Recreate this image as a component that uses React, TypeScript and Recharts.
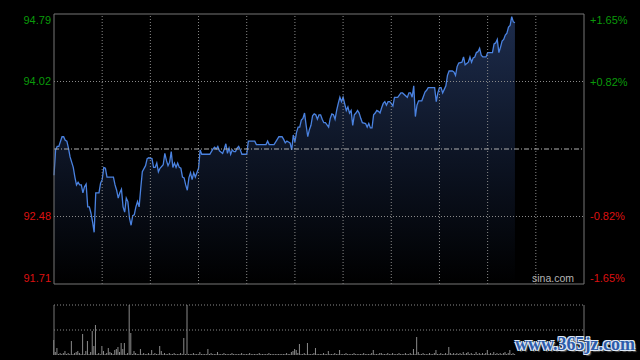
import {
  Area,
  Bar,
  BarChart,
  ComposedChart,
  ReferenceLine,
  XAxis,
  YAxis,
} from "recharts";

// intraday minute index (0..330) and last price
const minutes = [
  0, 1, 2, 3, 5, 6, 7, 8, 9, 10, 12, 13, 14, 15, 16, 17, 18, 19, 20, 21, 22, 23, 24, 25, 26, 27, 28, 29, 30,
  31, 32, 33, 35, 37, 38, 39, 40, 41, 42, 43, 44, 45, 46, 47, 48, 49, 50, 51, 52, 53, 54, 55, 57, 58, 59, 61,
  62, 63, 64, 65, 66, 68, 69, 70, 71, 72, 73, 74, 75, 76, 77, 78, 79, 80, 81, 82, 83, 84, 85, 86, 87, 88, 90,
  91, 92, 97, 98, 99, 100, 101, 102, 103, 105, 106, 107, 108, 109, 110, 111, 112, 113, 114, 115, 116, 117,
  120, 121, 125, 126, 132, 133, 134, 137, 139, 140, 142, 143, 144, 145, 146, 147, 148, 149, 150, 151, 152,
  153, 154, 155, 156, 157, 158, 159, 160, 161, 162, 163, 164, 165, 166, 167, 168, 169, 171, 172, 173, 174,
  175, 176, 177, 178, 179, 180, 182, 183, 184, 185, 186, 187, 188, 189, 190, 191, 192, 194, 195, 196, 197,
  198, 199, 200, 201, 202, 203, 204, 205, 206, 207, 208, 209, 210, 211, 212, 214, 216, 217, 220, 221, 222,
  223, 224, 225, 226, 227, 229, 230, 231, 232, 233, 237, 238, 239, 240, 241, 242, 243, 244, 245, 246, 248,
  249, 250, 251, 252, 254, 255, 256, 258, 259, 260, 261, 262, 263, 264, 265, 266, 267, 269, 270, 271, 273,
  274, 275, 276, 277, 278, 279, 280, 281, 282, 283, 284, 285, 286, 287,
];

const prices = [
  92.95, 93.24, 93.28, 93.28, 93.39, 93.39, 93.35, 93.34, 93.26, 93.16, 93.04, 92.93, 92.84, 92.87, 92.84,
  92.84, 92.75, 92.82, 92.85, 92.59, 92.59, 92.52, 92.42, 92.3, 92.75, 92.75, 92.75, 92.86, 92.9, 93.04,
  93.03, 92.93, 92.93, 92.93, 92.84, 92.78, 92.69, 92.75, 92.79, 92.59, 92.53, 92.69, 92.65, 92.46, 92.38,
  92.49, 92.5, 92.59, 92.65, 92.59, 92.8, 92.99, 93.06, 93.14, 93.15, 93.14, 93.04, 93.04, 93.09, 92.99,
  93.03, 93.07, 93.2, 93.12, 93.06, 93.1, 93.22, 93.04, 93.09, 93.04, 93.09, 93.04, 93.03, 92.93, 92.92,
  92.84, 92.78, 92.92, 92.98, 92.9, 92.98, 92.93, 93.03, 93.24, 93.19, 93.19, 93.22, 93.25, 93.27, 93.25,
  93.28, 93.23, 93.2, 93.25, 93.31, 93.2, 93.26, 93.19, 93.24, 93.22, 93.22, 93.26, 93.28, 93.24, 93.19,
  93.19, 93.34, 93.34, 93.3, 93.3, 93.34, 93.3, 93.3, 93.36, 93.39, 93.39, 93.36, 93.32, 93.34, 93.33,
  93.32, 93.24, 93.41, 93.33, 93.44, 93.5, 93.5, 93.58, 93.6, 93.66, 93.52, 93.39, 93.47, 93.52, 93.63,
  93.65, 93.64, 93.59, 93.64, 93.64, 93.59, 93.55, 93.55, 93.5, 93.6, 93.65, 93.64, 93.59, 93.69, 93.77,
  93.84, 93.79, 93.84, 93.69, 93.73, 93.66, 93.69, 93.52, 93.64, 93.66, 93.69, 93.66, 93.6, 93.55, 93.54,
  93.5, 93.54, 93.49, 93.49, 93.64, 93.66, 93.69, 93.68, 93.66, 93.72, 93.77, 93.79, 93.75, 93.79, 93.79,
  93.77, 93.74, 93.84, 93.84, 93.89, 93.89, 93.84, 93.89, 93.89, 93.84, 93.97, 93.62, 93.75, 93.8, 93.8,
  93.85, 93.9, 93.92, 93.95, 93.95, 93.79, 93.89, 93.95, 93.95, 93.89, 93.93, 93.97, 94.09, 94.14, 94.14,
  94.13, 94.09, 94.19, 94.23, 94.24, 94.3, 94.21, 94.24, 94.3, 94.24, 94.29, 94.3, 94.35, 94.36, 94.4,
  94.32, 94.3, 94.3, 94.35, 94.35, 94.35, 94.45, 94.46, 94.5, 94.35, 94.41, 94.48, 94.5, 94.55, 94.57,
  94.64, 94.66, 94.76, 94.7, 94.69,
];

// volume per minute (0..287)
const volumes = [
  15, 3, 7, 1, 2, 1, 2, 4, 1, 2,
  1, 14, 1, 2, 3, 4, 2, 1, 21, 1,
  4, 14, 1, 3, 24, 9, 30, 1, 2, 1,
  9, 4, 1, 2, 7, 3, 2, 1, 5, 6,
  8, 3, 12, 6, 12, 1, 2, 60, 22, 1,
  4, 2, 1, 1, 6, 1, 2, 1, 1, 2,
  1, 5, 1, 2, 1, 1, 9, 4, 1, 2,
  1, 1, 2, 1, 1, 2, 1, 1, 1, 2,
  1, 17, 1, 60, 1, 1, 1, 2, 1, 1,
  1, 3, 1, 1, 1, 1, 6, 1, 2, 1,
  1, 1, 3, 1, 1, 1, 2, 1, 1, 1,
  1, 2, 1, 1, 1, 1, 1, 2, 1, 1,
  1, 1, 2, 1, 1, 1, 1, 1, 2, 1,
  1, 1, 1, 1, 2, 1, 1, 1, 1, 1,
  1, 1, 1, 1, 1, 2, 1, 1, 3, 4,
  6, 5, 2, 11, 1, 1, 2, 1, 12, 1,
  1, 1, 2, 7, 1, 1, 1, 1, 2, 1,
  1, 4, 1, 1, 1, 2, 1, 1, 5, 1,
  1, 1, 2, 1, 1, 1, 1, 2, 1, 1,
  1, 1, 1, 2, 1, 1, 1, 1, 2, 5,
  1, 1, 1, 2, 2, 1, 1, 1, 2, 1,
  1, 2, 1, 1, 1, 2, 1, 1, 1, 2,
  1, 1, 2, 1, 6, 1, 18, 3, 1, 1,
  2, 1, 1, 1, 2, 1, 1, 2, 5, 1,
  1, 2, 1, 1, 2, 1, 8, 2, 1, 2,
  1, 2, 1, 2, 1, 3, 1, 2, 3, 1,
  2, 1, 1, 3, 1, 2, 1, 2, 1, 2,
  5, 1, 2, 1, 3, 1, 2, 1, 2, 1,
  2, 3, 1, 2, 5, 1, 2, 1,
];

const prevClose = 93.25;
const priceTicks = [91.71, 92.48, 94.02, 94.79];
const pctTicks = [-1.65, -0.82, 0.82, 1.65];
const timeTicks = [0, 30, 60, 90, 120, 150, 180, 210, 240, 270, 300, 330];

const GREEN = "#0a9a0a";
const RED = "#dd1111";
const BORDER = "#777";
const GRID = "#8a8a8a";
const FONT = '"Liberation Sans", Arial, sans-serif';

const priceData = minutes.map((m, i) => ({ m, p: prices[i] }));
const volData = volumes.map((v, i) => ({ m: i, v }));

function edgeShift(value: number, lo: number, hi: number) {
  if (value === hi) return 6;
  if (value === lo) return -6;
  return 0;
}

function PriceTick(props: any) {
  const { x, y, payload } = props;
  const v = payload.value as number;
  return (
    <text
      x={x}
      y={y + edgeShift(v, 91.71, 94.79)}
      dy="0.355em"
      textAnchor="end"
      fill={v > prevClose ? GREEN : RED}
      fontSize={11}
      fontFamily={FONT}
    >
      {v.toFixed(2)}
    </text>
  );
}

function PctTick(props: any) {
  const { x, y, payload } = props;
  const v = payload.value as number;
  return (
    <text
      x={x}
      y={y + edgeShift(v, -1.65, 1.65)}
      dy="0.355em"
      textAnchor="start"
      fill={v > 0 ? GREEN : RED}
      fontSize={11}
      fontFamily={FONT}
    >
      {(v > 0 ? "+" : "") + v.toFixed(2) + "%"}
    </text>
  );
}

export default function App() {
  return (
    <div
      style={{
        position: "absolute",
        left: 0,
        top: 0,
        width: 640,
        height: 360,
        background: "#000",
        overflow: "hidden",
        fontFamily: FONT,
      }}
    >
      <div style={{ position: "absolute", left: 0, top: 0 }}>
        <ComposedChart width={640} height={290} data={priceData} margin={{ top: 14, right: 0, bottom: 6, left: 0 }}>
          <defs>
            <linearGradient id="priceFill" x1="0" y1="0" x2="0" y2="1">
              <stop offset="0%" stopColor="#1d2c4c" />
              <stop offset="55%" stopColor="#0c1322" />
              <stop offset="100%" stopColor="#000" />
            </linearGradient>
          </defs>
          <XAxis
            dataKey="m"
            type="number"
            domain={[0, 330]}
            ticks={timeTicks}
            interval={0}
            tick={false}
            axisLine={false}
            tickLine={false}
            height={0}
          />
          <YAxis
            yAxisId="price"
            domain={[91.71, 94.79]}
            ticks={priceTicks}
            interval={0}
            width={54}
            tickSize={0}
            tickMargin={3}
            tick={<PriceTick />}
            axisLine={{ stroke: BORDER }}
            tickLine={false}
            allowDataOverflow
          />
          <YAxis
            yAxisId="pct"
            orientation="right"
            domain={[-1.65, 1.65]}
            ticks={pctTicks}
            interval={0}
            width={56}
            tickSize={0}
            tickMargin={6}
            tick={<PctTick />}
            axisLine={{ stroke: BORDER }}
            tickLine={false}
            allowDataOverflow
          />
          {timeTicks.slice(1, -1).map((t) => (
            <ReferenceLine key={t} yAxisId="price" x={t} stroke={GRID} strokeDasharray="1 2" />
          ))}
          <ReferenceLine yAxisId="price" y={94.02} stroke={GRID} strokeDasharray="1 2" />
          <ReferenceLine yAxisId="price" y={92.48} stroke={GRID} strokeDasharray="1 2" />
          <Area
            yAxisId="price"
            dataKey="p"
            type="linear"
            stroke="#4a82e0"
            strokeWidth={1.3}
            fill="url(#priceFill)"
            fillOpacity={1}
            dot={false}
            activeDot={false}
            isAnimationActive={false}
          />
          <ReferenceLine yAxisId="price" y={prevClose} stroke="#b0b0b0" strokeDasharray="5 2 1 2" />
          <ReferenceLine yAxisId="price" y={94.79} stroke={BORDER} />
          <ReferenceLine yAxisId="price" y={91.71} stroke={BORDER} />
        </ComposedChart>
      </div>

      <div style={{ position: "absolute", left: 0, top: 290 }}>
        <BarChart width={640} height={70} data={volData} margin={{ top: 15, right: 0, bottom: 5, left: 0 }}>
          <XAxis
            dataKey="m"
            type="number"
            domain={[0, 330]}
            tick={false}
            axisLine={false}
            tickLine={false}
            height={0}
          />
          <YAxis yAxisId="vol" domain={[0, 50]} width={54} tick={false} tickLine={false} axisLine={{ stroke: BORDER }} allowDataOverflow />
          <YAxis
            yAxisId="vol2"
            orientation="right"
            domain={[0, 50]}
            width={56}
            tick={false}
            tickLine={false}
            axisLine={{ stroke: BORDER }}
          />
          <ReferenceLine yAxisId="vol" y={50} stroke={GRID} strokeDasharray="1 2" />
          <ReferenceLine yAxisId="vol" y={25} stroke={GRID} strokeDasharray="1 2" />
          <Bar yAxisId="vol" dataKey="v" fill="#8a8a8a" barSize={1} isAnimationActive={false} />
        </BarChart>
      </div>

      <div
        style={{
          position: "absolute",
          left: 532,
          top: 272,
          fontSize: 10.5,
          color: "#b4b4b4",
          lineHeight: "12px",
        }}
      >
        sina.com
      </div>

      <div
        style={{
          position: "absolute",
          left: 515,
          top: 334,
          fontFamily: '"Liberation Serif", "DejaVu Serif", serif',
          fontWeight: 700,
          fontSize: 18,
          color: "#2d5cab",
          lineHeight: "20px",
          textShadow:
            "1px 1px 0 #dfe8f5, -1px -1px 0 #dfe8f5, 1px -1px 0 #dfe8f5, -1px 1px 0 #dfe8f5, 2px 2px 1px #555",
        }}
      >
        www.365jz.com
      </div>
    </div>
  );
}
